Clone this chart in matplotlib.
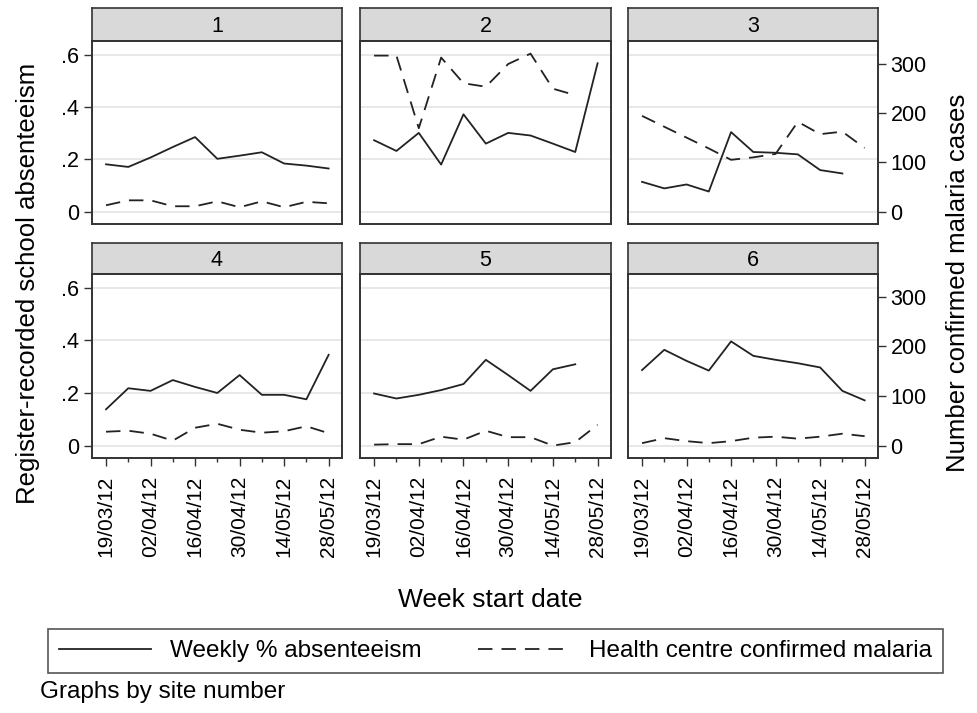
import numpy as np
import matplotlib.pyplot as plt
from matplotlib.lines import Line2D

plt.rcParams['font.family'] = ['Liberation Sans', 'DejaVu Sans']

# Semanas (inicio de semana) y datos por sitio
semanas = ['19/03/12', '26/03/12', '02/04/12', '09/04/12', '16/04/12', '23/04/12',
           '30/04/12', '07/05/12', '14/05/12', '21/05/12', '28/05/12']
sitios = ['1', '2', '3', '4', '5', '6']
nan = np.nan

# Ausentismo semanal (proporcion)
ausentismo_1 = [0.181, 0.171, 0.207, 0.247, 0.285, 0.202, 0.214, 0.227, 0.184, 0.176, 0.165]
ausentismo_2 = [0.273, 0.232, 0.301, 0.180, 0.372, 0.260, 0.301, 0.291, 0.260, 0.228, 0.567]
ausentismo_3 = [0.114, 0.089, 0.104, 0.077, 0.304, 0.228, 0.225, 0.219, 0.159, 0.146, nan]
ausentismo_4 = [0.138, 0.218, 0.208, 0.249, 0.223, 0.200, 0.268, 0.193, 0.193, 0.176, 0.345]
ausentismo_5 = [0.198, 0.179, 0.193, 0.211, 0.234, 0.326, 0.268, 0.208, 0.290, 0.309, nan]
ausentismo_6 = [0.287, 0.364, 0.322, 0.285, 0.396, 0.341, 0.326, 0.313, 0.297, 0.208, 0.172]

# Casos de malaria confirmados en centro de salud
malaria_1 = [13, 23, 23, 11, 11, 21, 9, 21, 9, 20, 17]
malaria_2 = [316, 316, 169, 312, 260, 253, 299, 320, 249, 236, nan]
malaria_3 = [194, 172, 150, 128, 105, 110, 117, 182, 157, 162, 129]
malaria_4 = [28, 30, 24, 10, 36, 44, 32, 26, 29, 39, 25]
malaria_5 = [2, 3, 3, 18, 12, 30, 17, 17, 0, 7, 42]
malaria_6 = [5, 15, 9, 5, 9, 16, 18, 14, 18, 24, 19]

ausentismo = [ausentismo_1, ausentismo_2, ausentismo_3, ausentismo_4, ausentismo_5, ausentismo_6]
malaria = [malaria_1, malaria_2, malaria_3, malaria_4, malaria_5, malaria_6]

W, H = 978, 713
fig = plt.figure(figsize=(W / 100, H / 100), dpi=100)

cols_px = [(92, 342), (360, 611), (628, 878)]
rows_px = [(8, 41, 224), (243, 274, 458)]
marco = '#333333'
x = np.arange(len(semanas))

def rect(x0, x1, y0, y1):
    return [x0 / W, 1 - y1 / H, (x1 - x0) / W, (y1 - y0) / H]

for i, sitio in enumerate(sitios):
    fila, col = divmod(i, 3)
    x0, x1 = cols_px[col]
    s0, s1, p1 = rows_px[fila]

    # franja del titulo
    tira = fig.add_axes(rect(x0, x1, s0, s1))
    tira.set_facecolor('#d9d9d9')
    tira.set_xticks([])
    tira.set_yticks([])
    for sp in tira.spines.values():
        sp.set_color(marco)
        sp.set_linewidth(1.2)
    tira.text(0.5, 0.45, sitio, ha='center', va='center', fontsize=15.5, transform=tira.transAxes)

    ax = fig.add_axes(rect(x0, x1, s1, p1))
    ax.plot(x, ausentismo[i], color='#222222', lw=1.3)
    ax.set_xlim(-0.63, 10.6)
    ax.set_ylim(-0.047, 0.652)
    ax.set_yticks([0, 0.2, 0.4, 0.6])
    ax.set_yticklabels(['0', '.2', '.4', '.6'])
    ax.yaxis.grid(True, color='#e6e6e6', lw=1.3)
    ax.set_axisbelow(True)
    for sp in ax.spines.values():
        sp.set_color(marco)
        sp.set_linewidth(1.2)
    ax.set_xticks(x[::2])
    ax.set_xticks(x[1::2], minor=True)
    ax.tick_params(axis='both', which='major', length=6, width=1, color=marco, labelsize=15.5, pad=3)
    ax.tick_params(axis='x', which='major', pad=7)
    ax.tick_params(axis='x', which='minor', length=3, width=1, color=marco)
    if fila == 1:
        ax.set_xticklabels(semanas[::2], rotation=90, fontsize=15)
    else:
        ax.tick_params(axis='x', which='both', length=0, labelbottom=False)
    if col != 0:
        ax.tick_params(axis='y', length=0, labelleft=False)

    ax2 = ax.twinx()
    ax2.plot(x, malaria[i], color='#222222', lw=1.3, linestyle=(0, (8, 5)))
    ax2.set_ylim(-0.047 * 530, 0.652 * 530)
    ax2.set_yticks([0, 100, 200, 300])
    ax2.tick_params(axis='y', length=6, width=1, color=marco, labelsize=15.5, pad=3)
    for sp in ax2.spines.values():
        sp.set_color(marco)
        sp.set_linewidth(1.2)
    if col != 2:
        ax2.tick_params(axis='y', length=0, labelright=False)

fig.text(28 / W, 1 - 283 / H, 'Register-recorded school absenteeism', rotation=90,
         ha='center', va='center', fontsize=18.5)
fig.text(958 / W, 1 - 283 / H, 'Number confirmed malaria cases', rotation=90,
         ha='center', va='center', fontsize=18.5)
fig.text(490 / W, 1 - 600 / H, 'Week start date', ha='center', va='center', fontsize=19)

handles = [Line2D([], [], color='#222222', lw=1.3),
           Line2D([], [], color='#222222', lw=1.3, linestyle=(0, (8, 5)))]
leg = fig.legend(handles, ['Weekly % absenteeism', 'Health centre confirmed malaria'],
                 loc='lower left', bbox_to_anchor=(48 / W, 1 - 673 / H, 895 / W, 49 / H),
                 mode='expand', ncol=2, fontsize=17.5, handlelength=3.8, handletextpad=0.75,
                 borderpad=0.45, borderaxespad=0, fancybox=False, framealpha=1,
                 edgecolor='#555555')
leg.get_frame().set_linewidth(1.2)

fig.text(40 / W, 1 - 692 / H, 'Graphs by site number', ha='left', va='center', fontsize=17.5)

plt.savefig('out.png', dpi=100)
